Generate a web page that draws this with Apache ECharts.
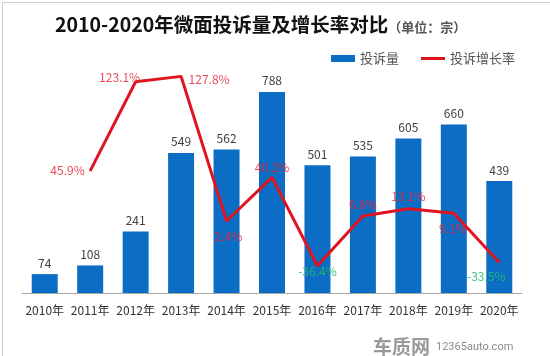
<!DOCTYPE html>
<html><head><meta charset="utf-8">
<script src="https://cdn.jsdelivr.net/npm/echarts@6/dist/echarts.min.js"></script>
<style>html,body{margin:0;padding:0;background:#fff}#c{width:550px;height:356px}</style>
</head><body><div id="c"></div>
<script>
const categories = ['2010年','2011年','2012年','2013年','2014年','2015年','2016年','2017年','2018年','2019年','2020年'];
const complaints = [74,108,241,549,562,788,501,535,605,660,439];
const growthRate = [null,45.9,123.1,127.8,2.4,40.2,-36.4,6.8,13.1,9.1,-33.5];
const titleMain = '2010-2020年微面投诉量及增长率对比';
const titleUnit = '（单位：宗）';
const labelPlace = [null,
  {position:'left', offset:[0,0]},
  {position:'left', offset:[10,-4]},
  {position:'right', offset:[2,3]},
  {position:'bottom', offset:[2,4]},
  {position:'top', offset:[0,2]},
  {position:'bottom', offset:[0,-6]},
  {position:'top', offset:[0,0]},
  {position:'top', offset:[0,-1]},
  {position:'bottom', offset:[-1,4]},
  {position:'bottom', offset:[-13,3]}
];
const font = '"Noto Sans CJK SC", "Microsoft YaHei", sans-serif';
const chart = echarts.init(document.getElementById('c'));
const lineData = growthRate.map((v,i)=> v===null ? null : {
  value: v,
  label: Object.assign({
    show:true,
    formatter: v.toFixed(1)+'%',
    color: v<0 ? 'rgba(40,185,110,0.9)' : 'rgba(230,40,55,0.85)',
    fontSize: 12, fontFamily: font, distance: 5
  }, labelPlace[i])
});
chart.setOption({
  animation:false,
  title:{
    text:'{m|'+titleMain+'}{u|'+titleUnit+'}',
    left:50, top:10,
    textStyle:{rich:{
      m:{fontSize:19.5,fontWeight:'bold',color:'#111',fontFamily:font},
      u:{fontSize:13,color:'#555',fontFamily:font,padding:[4,0,0,0]}
    }}
  },
  legend:{
    right:30, top:47, itemGap:22, itemWidth:24, itemHeight:7,
    textStyle:{fontSize:13,color:'#555',fontFamily:font},
    data:[{name:'投诉量',icon:'rect'},{name:'投诉增长率',icon:'path://M0,0 L24,0 L24,3 L0,3 Z'}]
  },
  grid:{left:22,right:28,top:60,bottom:63},
  xAxis:{
    type:'category', data:categories,
    axisLine:{lineStyle:{color:'#a6a6a6'}},
    axisTick:{show:false},
    axisLabel:{color:'#333',fontSize:12,fontFamily:font,margin:11,interval:0}
  },
  yAxis:[
    {type:'value',min:0,max:913,show:false,splitLine:{show:false}},
    {type:'value',min:-60,max:142,show:false,splitLine:{show:false}}
  ],
  series:[
    {name:'投诉量',type:'bar',data:complaints,barWidth:26,
     itemStyle:{color:'#0b6ec4'},
     label:{show:true,position:'top',color:'#404040',fontSize:12,fontFamily:font,distance:5}},
    {name:'投诉增长率',type:'line',yAxisIndex:1,data:lineData,
     symbol:'circle',symbolSize:1,showSymbol:true,connectNulls:false,z:3,
     lineStyle:{color:'#e0141e',width:3},itemStyle:{color:'#e0141e'}}
  ],
  graphic:[
    {type:'rect',left:0,top:0,shape:{width:549,height:355},style:{fill:'none',stroke:'#cfcfcf',lineWidth:1}},
    {type:'text',left:373,top:337,style:{text:'车质网',fontSize:19,fontWeight:'bold',fill:'#9a9a9a',fontFamily:font}},
    {type:'text',left:436,top:342,style:{text:'12365auto.com',fontSize:11,fill:'#8a8a8a',fontFamily:'Roboto, sans-serif'}}
  ]
});
</script></body></html>
